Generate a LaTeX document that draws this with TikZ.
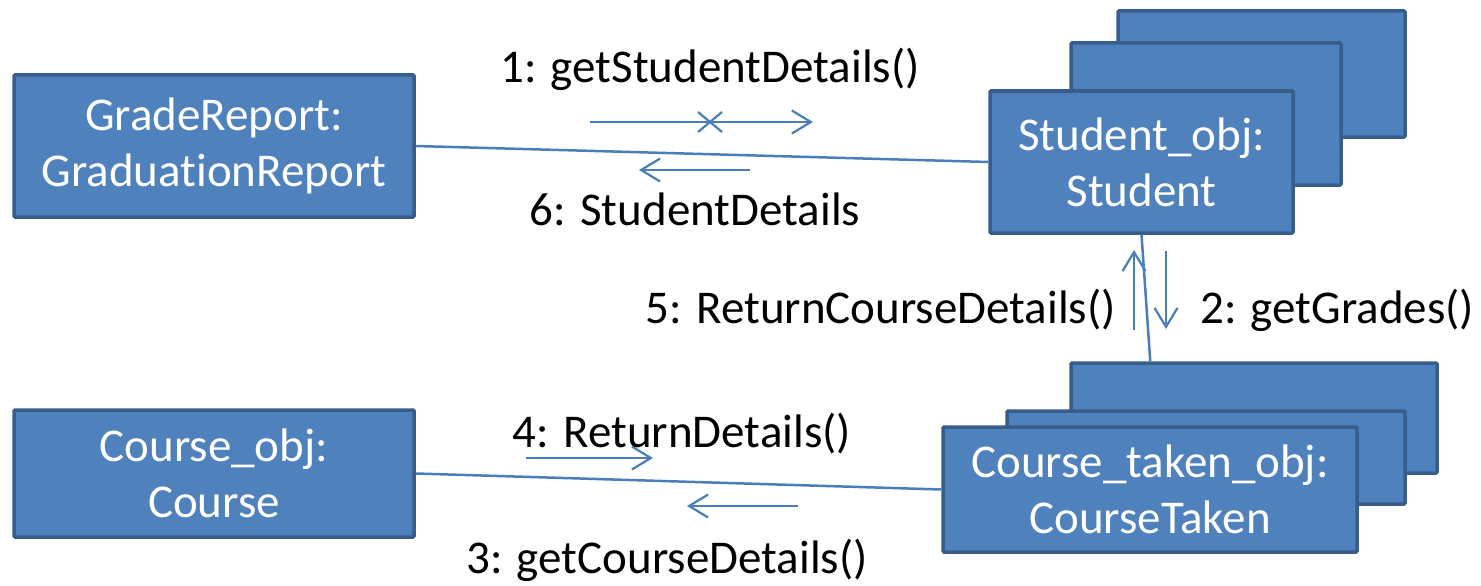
\documentclass[tikz,border=0pt]{standalone}
\usepackage{fontspec}
\setmainfont{Carlito}[Ligatures={NoCommon,NoContextual}]
\usetikzlibrary{arrows.meta}
\definecolor{objfill}{HTML}{4F81BD}
\definecolor{objline}{HTML}{385D8A}
\definecolor{linkblue}{HTML}{4A7EBB}
\tikzset{
  objbox/.style={draw=objline, fill=objfill, line width=3.5pt, rounded corners=1pt,
    text=white, align=center, inner sep=0pt,
    font=\fontsize{47}{56}\selectfont},
  link/.style={draw=linkblue, line width=2.5pt},
  msg/.style={draw=linkblue, line width=2.2pt,
    -{Straight Barb[length=19pt,width=23pt,line width=2.2pt]}},
  msglabel/.style={font=\fontsize{47}{56}\selectfont, inner sep=0pt, text=black}
}
\begin{document}
\begin{tikzpicture}[x=1pt,y=-1pt]
\useasboundingbox (0,0) rectangle (1481,586);

% Student objects (multi-object stack, back to front)
\node[objbox, minimum width=287, minimum height=126] (stu3) at (1261.5,74) {};
\node[objbox, minimum width=270, minimum height=142] (stu2) at (1206,114) {};
\node[objbox, minimum width=303, minimum height=142] (stu) at (1141.5,162)
  {Student\_obj:\\Student};

% CourseTaken objects (multi-object stack, back to front)
\node[objbox, minimum width=366, minimum height=110] (ct3) at (1254,418) {};
\node[objbox, minimum width=398, minimum height=93] (ct2) at (1206,457.5) {};
\node[objbox, minimum width=414, minimum height=125] (ct) at (1150,489.5)
  {Course\_taken\_obj:\\CourseTaken};

% Single objects
\node[objbox, minimum width=400, minimum height=142] (grade) at (214,146)
  {GradeReport:\\GraduationReport};
\node[objbox, minimum width=400, minimum height=127] (course) at (214,473.5)
  {Course\_obj:\\Course};

% Links
\draw[link] (grade.east) -- (stu.west);
\draw[link] (course.east) -- (ct.west);
\draw[link] (stu.south) -- ([xshift=81pt]ct3.north west);

% Messages
\draw[msg] (590,122) -- (813,122);
\draw[linkblue, line width=2.2pt] (698,112) -- (722,132) (698,132) -- (722,112);
\draw[msg] (750,170) -- (639,170);
\draw[msg] (1134,330) -- (1134,250);
\draw[msg] (1166,251) -- (1166,329);
\draw[msg] (526,458) -- (653,458);
\draw[msg] (798,506) -- (687,506);

% Message labels
\node[msglabel, anchor=base] (m1) at (710,82) {1: getStudentDetails()};
\node[msglabel, anchor=base] (m6) at (695,225) {6: StudentDetails};
\node[msglabel, anchor=base east] (m5) at (1116,323) {5: ReturnCourseDetails()};
\node[msglabel, anchor=base west] (m2) at (1200,323) {2: getGrades()};
\node[msglabel, anchor=base] (m4) at (682,447) {4: ReturnDetails()};
\node[msglabel, anchor=base] (m3) at (667,573) {3: getCourseDetails()};
\end{tikzpicture}
\end{document}
